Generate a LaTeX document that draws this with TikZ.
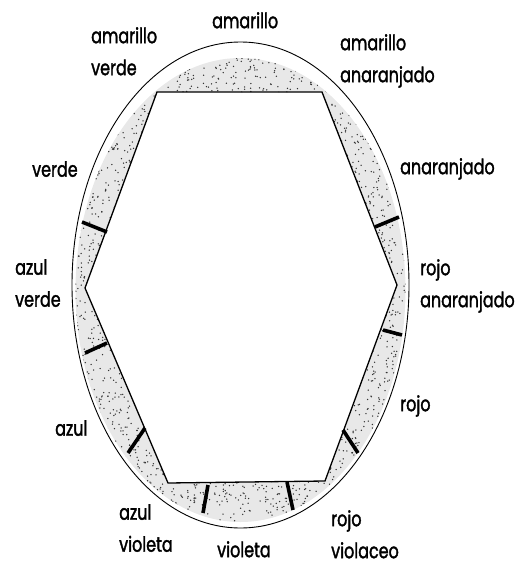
\documentclass[tikz,border=0pt]{standalone}
\usepackage{fontspec}
\setmainfont{Poppins}[FakeStretch=0.76,FakeBold=1.6]
\begin{document}
\begin{tikzpicture}[x=1pt,y=-1pt,
  lab/.style={inner sep=0pt,anchor=north west,align=left,font=\fontsize{21}{32}\selectfont},
  bar/.style={line width=3.6pt,black},
  hexline/.style={line width=1.3pt,black},
  rim/.style={line width=0.9pt,black}]
\useasboundingbox (0,0) rectangle (527,565);
% hexagon corners
\coordinate (h1) at (157,92);
\coordinate (h2) at (322,92);
\coordinate (h3) at (397,285);
\coordinate (h4) at (325,481);
\coordinate (h5) at (168,483);
\coordinate (h6) at (85,288);
\coordinate (c) at (240.5,285);
\coordinate (ci) at (240.5,290);
% stippled band
\begin{scope}[even odd rule]
  \clip (ci) ellipse [x radius=165, y radius=232]
     (h1) -- (h2) -- (h3) -- (h4) -- (h5) -- (h6) -- cycle;
  \fill[gray!18] (0,0) rectangle (527,565);
  \pgfmathsetseed{7}
  \foreach \i in {1,...,4500}{
    \pgfmathsetmacro\px{72+337*rnd}
    \pgfmathsetmacro\py{50+480*rnd}
    \fill[black!80] (\px,\py) circle[radius=0.75];
  }
\end{scope}
% outline ellipse
\draw[rim] (c) ellipse [x radius=168.5, y radius=243];
% hexagon
\draw[hexline,line join=miter] (h1) -- (h2) -- (h3) -- (h4) -- (h5) -- (h6) -- cycle;
% separator bars
\coordinate (b1a) at (82,222);  \coordinate (b1b) at (107,232);
\coordinate (b2a) at (85,353);  \coordinate (b2b) at (107,343);
\coordinate (b3a) at (128,453); \coordinate (b3b) at (145,428);
\coordinate (b4a) at (203,513); \coordinate (b4b) at (208,485);
\coordinate (b5a) at (287,482); \coordinate (b5b) at (293,510);
\coordinate (b6a) at (343,430); \coordinate (b6b) at (358,453);
\coordinate (b7a) at (383,330); \coordinate (b7b) at (402,335);
\coordinate (b8a) at (375,227); \coordinate (b8b) at (399,217);
\foreach \k in {1,...,8}{ \draw[bar] (b\k a) -- (b\k b); }
% labels
\node[lab] (ama) at (212,12) {amarillo};
\node[lab] (amv) at (91,27) {amarillo\\verde};
\node[lab] (amn) at (340,34) {amarillo\\anaranjado};
\node[lab] (ver) at (32,161) {verde};
\node[lab] (ana) at (400,158) {anaranjado};
\node[lab] (azv) at (15,259) {azul\\verde};
\node[lab] (roa) at (420,259) {rojo\\anaranjado};
\node[lab] (roj) at (400,395) {rojo};
\node[lab] (azu) at (55,420) {azul};
\node[lab] (azi) at (119,504) {azul\\violeta};
\node[lab] (vio) at (217,541) {violeta};
\node[lab] (rov) at (331,510) {rojo\\violaceo};
\end{tikzpicture}
\end{document}
